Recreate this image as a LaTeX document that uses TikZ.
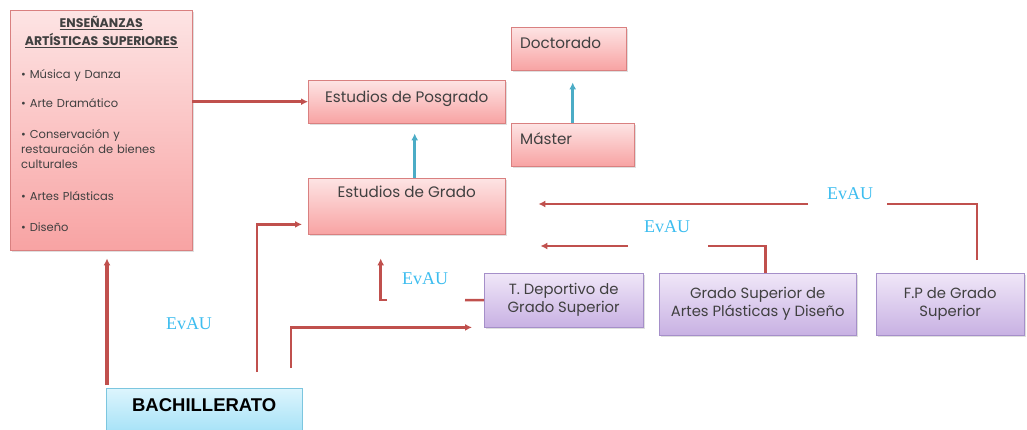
\documentclass[tikz,border=0pt]{standalone}
\usepackage{fontspec}
\setmainfont{Poppins}
\newfontfamily\evfont{Liberation Serif}
\newfontfamily\bachfont{Liberation Sans}
\usepackage{tikz}
\definecolor{boxred}{HTML}{D98080}
\definecolor{pinktop}{HTML}{FDE4E4}
\definecolor{pinkbot}{HTML}{F8A3A3}
\definecolor{liltop}{HTML}{F0E7F8}
\definecolor{lilbot}{HTML}{C8B1E3}
\definecolor{lilline}{HTML}{A58FC9}
\definecolor{bluetop}{HTML}{DDF5FD}
\definecolor{bluebot}{HTML}{A6E2F7}
\definecolor{blueline}{HTML}{7CC6DF}
\definecolor{arrred}{HTML}{C0504D}
\definecolor{arrblue}{HTML}{4BACC6}
\definecolor{evblue}{HTML}{3DBDEF}
\tikzset{
pinkbox/.style={draw=boxred, top color=pinktop, bottom color=pinkbot, anchor=north west,
  inner xsep=0pt, inner ysep=0pt, drop shadow={shadow xshift=1.5pt, shadow yshift=-2pt, opacity=0.25},
  font=\fontsize{15.2}{18}\selectfont, text=black!75},
lilbox/.style={draw=lilline, top color=liltop, bottom color=lilbot, anchor=north west,
  align=center, inner sep=0pt, drop shadow={shadow xshift=1.5pt, shadow yshift=-2pt, opacity=0.25},
  font=\fontsize{14.8}{18}\selectfont, text=black!75},
bachbox/.style={draw=blueline, top color=bluetop, bottom color=bluebot, anchor=north west,
  inner sep=0pt, font=\bachfont\bfseries\fontsize{18.5}{20}\selectfont},
evau/.style={text=evblue, font=\evfont\fontsize{18}{19}\selectfont},
redline/.style={draw=arrred, line width=2.5pt},
redarrow/.style={redline, -{Latex[length=7pt,width=7pt]}},
bluearrow/.style={draw=arrblue, line width=2.5pt, -{Latex[length=7pt,width=7pt]}}
}
\usetikzlibrary{arrows.meta, shadows, positioning}

\begin{document}
\begin{tikzpicture}[x=1pt, y=-1pt]
\useasboundingbox (0,0) rectangle (1027,430);
\node[pinkbox, minimum width=182, minimum height=240, text width=160, inner xsep=11pt, inner ysep=1pt,
  align=left, font=\fontsize{11.5}{15}\selectfont] (eas) at (10,10) {%
  \makebox[160pt][c]{\bfseries\fontsize{12.5}{15}\selectfont\underline{ENSEÑANZAS}}\\[3pt]
  \makebox[160pt][c]{\bfseries\fontsize{12.5}{15}\selectfont\underline{ARTÍSTICAS SUPERIORES}}\\[18pt]
  • Música y Danza\\[14pt]
  • Arte Dramático\\[16pt]
  • Conservación y\\
  restauración de bienes\\
  culturales\\[17pt]
  • Artes Plásticas\\[16pt]
  • Diseño\par\vspace*{12pt}};
\node[pinkbox, minimum width=197, text height=18pt, text depth=17pt, inner ysep=4pt] (posgrado) at (308,80) {Estudios de Posgrado};
\node[pinkbox, text width=97pt, inner xsep=9pt, align=left, text height=17pt, text depth=18pt, inner ysep=4pt] (doctorado) at (511,27) {Doctorado};
\node[pinkbox, text width=105pt, inner xsep=9pt, align=left, text height=17pt, text depth=18pt, inner ysep=4pt] (master) at (511,123) {Máster};
\node[pinkbox, minimum width=197, text height=15pt, text depth=33pt, inner ysep=4pt] (grado) at (308,178) {Estudios de Grado};
\node[lilbox, minimum width=159, minimum height=54] (tdep) at (484,273) {T. Deportivo de\\Grado Superior};
\node[lilbox, minimum width=197, minimum height=62] (gsapd) at (659,273) {Grado Superior de\\Artes Plásticas y Diseño};
\node[lilbox, minimum width=148, minimum height=62] (fp) at (876,273) {F.P de Grado\\Superior};
\node[bachbox, minimum width=196, text height=23pt, text depth=21pt] (bach) at (106,388) {BACHILLERATO};
% ----
\node[evau] (ev1) at (189,324) {EvAU};
\node[evau] (ev2) at (425,279) {EvAU};
\node[evau] (ev3) at (667,227) {EvAU};
\node[evau] (ev4) at (850,194) {EvAU};
\coordinate (g1) at (465,300);
\coordinate (g2) at (387,300);
\coordinate (h1) at (708,246);
\coordinate (h2) at (628,246);
\coordinate (k1) at (887,204);
\coordinate (k2) at (808,204);
% ----
\draw[redarrow] (eas.east |- posgrado.west) -- (posgrado.west);
\draw[bluearrow, shorten >=10pt] ([xshift=8pt]grado.north) -- ([xshift=8pt]posgrado.south);
\draw[bluearrow, shorten >=12pt] (master.north) -- (master.north |- doctorado.south);
\draw[redarrow, line width=4pt, shorten <=3pt, shorten >=8pt] ([xshift=1pt]bach.north west) -- ([xshift=1pt]bach.north west |- eas.south);

\draw[redarrow, shorten <=16pt, shorten >=6pt] ([xshift=53pt]bach.north) |- ([yshift=10pt]grado.south west);
\draw[redarrow, shorten <=20pt, shorten >=12pt] ([xshift=87pt]bach.north) |- (tdep.south west);

\draw[redline] (tdep.west) -- (g1);
\draw[redarrow, shorten >=24pt] (g2) -| ([xshift=-26pt]grado.south);

\draw[redline] ([xshift=8pt]gsapd.north) |- (h1);
\draw[redarrow, shorten >=35pt] (h2) -- (grado.east |- h2);

\draw[redline, shorten <=13pt] ([xshift=27pt]fp.north) |- (k1);
\draw[redarrow, shorten >=33pt] (k2) -- (grado.east |- k2);
\end{tikzpicture}
\end{document}
